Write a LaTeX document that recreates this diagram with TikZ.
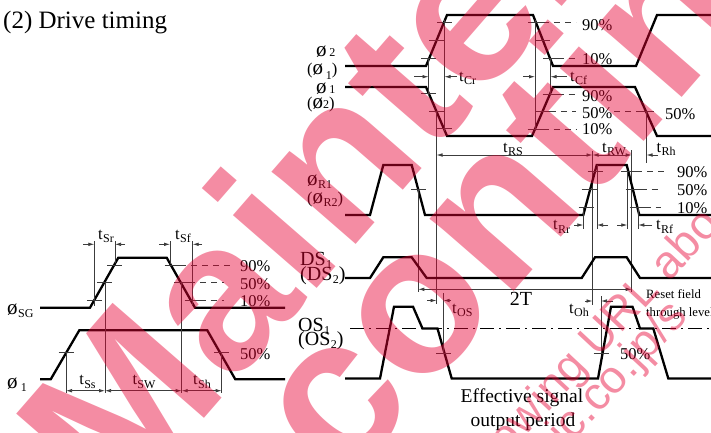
\documentclass[tikz,border=0pt]{standalone}
\usepackage{fontspec}
\setmainfont{Liberation Serif}
\newfontfamily\wmfont{Liberation Sans}
\usetikzlibrary{arrows.meta}
\definecolor{wmpink}{RGB}{230,0,50}
\definecolor{gl}{RGB}{60,60,60}
\newcommand\sbs[1]{\kern0.4pt\raisebox{-3.5pt}{\fontsize{12}{12}\selectfont #1}}
\newcommand\ph{{\fontsize{21}{21}\selectfont ø}}
\newcommand\mytick[2]{\draw[thinl] (#1,#2) +(-7.5,0) -- +(7.5,0);}
\begin{document}
\begin{tikzpicture}[x=1pt,y=-1pt,
  wave/.style={line width=2.3pt},
  thinl/.style={line width=0.75pt, draw=gl},
  dsh/.style={line width=0.75pt, draw=gl, dash pattern=on 6pt off 5pt},
  dashdot/.style={line width=0.75pt, draw=black, dash pattern=on 14pt off 5pt on 2pt off 5pt},
  dimb/.style={line width=0.75pt, draw=gl, {Latex[length=6pt,width=3.6pt]}-{Latex[length=6pt,width=3.6pt]}},
  ar/.style={line width=0.75pt, draw=gl, -{Latex[length=6pt,width=3.6pt]}},
  lb/.style={font=\fontsize{16.5}{18}\selectfont, inner sep=0pt},
  big/.style={font=\fontsize{20}{22}\selectfont, inner sep=0pt},
  sml/.style={font=\fontsize{12.7}{14}\selectfont, inner sep=0pt},
  wm/.style={font=\wmfont\bfseries\fontsize{210}{210}\selectfont, text=wmpink, text opacity=0.45, inner sep=0pt},
  wms/.style={font=\wmfont\fontsize{46}{46}\selectfont, text=wmpink, text opacity=0.45, inner sep=0pt}]
\useasboundingbox (0,0) rectangle (711,432);

% title
\node[anchor=base west, inner sep=0pt, font=\fontsize{25}{28}\selectfont] (title) at (3,28) {(2) Drive timing};

% ---------------- upper right: phi1 / phi2 ----------------
\node[lb, anchor=base west] (lp2) at (316,56) {\ph\,{\fontsize{12}{12}\selectfont 2}};
\node[lb, anchor=base west] (lp2b) at (307,74) {(\ph\,\raisebox{-5pt}{\fontsize{12}{12}\selectfont 1})};
\node[lb, anchor=base west] (lp1) at (316,93) {\ph\,{\fontsize{12}{12}\selectfont 1}};
\node[lb, anchor=base west] (lp1b) at (307,108.5) {(\ph{\fontsize{12}{12}\selectfont 2})};

\draw[wave] (345,66) -- (426,66) -- (447,15) -- (533,15) -- (553,66) -- (636,66) -- (657,15) -- (712,15);
\draw[wave] (345,87) -- (426,87) -- (447,136) -- (532,136) -- (553,87) -- (635,87) -- (657,136) -- (712,136);

\mytick{444.5}{22.7}\mytick{436.5}{40.5}\mytick{428.5}{58.3}
\mytick{535.5}{22.7}\mytick{542.5}{40.5}\mytick{550.5}{58.3}
\mytick{428.5}{93.3}\mytick{436.5}{111.7}\mytick{444}{128.7}
\mytick{550}{94.3}\mytick{542.5}{111.7}\mytick{535}{129}
\mytick{646.5}{111.7}

\draw[dsh] (543,22.7) -- (576,22.7);
\draw[dsh] (558,58.3) -- (576,58.3);
\draw[dsh] (557.5,94.3) -- (576,94.3);
\draw[dsh] (550,111.7) -- (576,111.7);
\draw[dsh] (614,111.7) -- (639,111.7);
\draw[dsh] (542.5,129) -- (576,129);

\node[lb, anchor=base west] (p90a) at (582,30.5) {90\%};
\node[lb, anchor=base west] (p10a) at (582,64) {10\%};
\node[lb, anchor=base west] (p90b) at (582,101.7) {90\%};
\node[lb, anchor=base west] (p50b) at (582,118.7) {50\%};
\node[lb, anchor=base west] (p10b) at (582,134.7) {10\%};
\node[lb, anchor=base west] (p50c) at (665,119.5) {50\%};

\draw[thinl] (428.5,58.3) -- (428.5,95);
\draw[thinl] (444.5,20) -- (444.5,131);
\draw[thinl] (535,20) -- (535,131);
\draw[thinl] (550.5,58.3) -- (550.5,95);
\draw[thinl] (436.5,111.7) -- (436.5,304);
\draw[thinl] (646.5,111.7) -- (646.5,163);

\draw[ar] (414,76.7) -- (428.5,76.7);
\draw[ar] (457,76.7) -- (444.5,76.7);
\draw[ar] (523,76.7) -- (535,76.7);
\draw[ar] (567,76.7) -- (550.5,76.7);
\node[lb, anchor=base west] (tcr) at (459,81) {t\sbs{Cr}};
\node[lb, anchor=base west] (tcf) at (570,81) {t\sbs{Cf}};

% tRS tRW tRh
\draw[dimb] (436.5,155) -- (592.5,155);
\draw[dimb] (592.5,155) -- (631.7,155);
\draw[ar] (658,155) -- (646.5,155);
\node[lb, anchor=base] (trs) at (513,152) {t\sbs{RS}};
\node[lb, anchor=base] (trw) at (614,152) {t\sbs{RW}};
\node[lb, anchor=base] (trh) at (666,152) {t\sbs{Rh}};
\draw[thinl] (592.5,151) -- (592.5,305);
\draw[thinl] (631.7,150) -- (631.7,292);

% ---------------- phi R ----------------
\node[lb, anchor=base west] (lr1) at (307,185) {\ph\sbs{R1}};
\node[lb, anchor=base west] (lr2) at (307,203) {(\ph\sbs{R2})};
\draw[wave] (345,215) -- (370,215) -- (383.3,165) -- (411.7,165) -- (425,215) -- (583.3,215) -- (596.7,165) -- (626.7,165) -- (639.3,215) -- (712,215);
\mytick{418.3}{189.3}
\mytick{595}{171.7}\mytick{589}{189.3}\mytick{586}{207.3}
\mytick{628}{171.7}\mytick{633}{189.3}\mytick{637}{207.3}
\draw[dsh] (636,171.7) -- (667,171.7);
\draw[dsh] (640.5,189.3) -- (661,189.3);
\draw[dsh] (644.5,207.3) -- (661,207.3);
\node[lb, anchor=base west] (r90) at (677,177) {90\%};
\node[lb, anchor=base west] (r50) at (677,195) {50\%};
\node[lb, anchor=base west] (r10) at (677,213) {10\%};
\draw[thinl] (418.3,189.3) -- (418.3,292);
\draw[thinl] (583.3,207.3) -- (583.3,229);
\draw[thinl] (597,165) -- (597,229);
\draw[thinl] (627.3,171.7) -- (627.3,229);
\draw[thinl] (638.3,207.3) -- (638.3,229);
\draw[ar] (574,225) -- (583.3,225);
\draw[ar] (608,225) -- (597,225);
\draw[ar] (617,225) -- (627.3,225);
\draw[ar] (652,225) -- (638.3,225);
\node[lb, anchor=base west] (trr) at (553,229.5) {t\sbs{Rr}};
\node[lb, anchor=base west] (trf) at (656,229.5) {t\sbs{Rf}};

% ---------------- DS ----------------
\node[big, anchor=base west] (ds1) at (300,265) {DS\sbs{1}};
\node[big, anchor=base west] (ds2) at (300,280) {(DS\sbs{2})};
\draw[wave] (345,278) -- (370,278) -- (383.3,257.3) -- (411.7,257.3) -- (426.7,278) -- (581.7,278) -- (595,257.3) -- (626.7,257.3) -- (640,278) -- (712,278);
\draw[dimb] (418.3,289.3) -- (631.7,289.3);
\node[big, anchor=base] (twoT) at (521,305.5) {2T};
\node[sml, anchor=base west] (rf1) at (646,298.3) {Reset field};
\node[sml, anchor=base west] (rf2) at (646,316) {through level};

% ---------------- OS ----------------
\node[big, anchor=base west] (os1) at (298,331) {OS\sbs{1}};
\node[big, anchor=base west] (os2) at (298,345) {(OS\sbs{2})};
\draw[dashdot] (350,328.5) -- (711,328.5);
\draw[wave] (345,378.5) -- (380,378.5) -- (394,306.7) -- (413,306.7) -- (422.5,328.5) -- (437.5,328.5) -- (451.7,378.5) -- (598,378.5) -- (611,306.7) -- (632.5,306.7) -- (640,328.5) -- (653.3,328.5) -- (668.3,378.5) -- (712,378.5);
\mytick{443.5}{353}\mytick{601}{353}
\draw[thinl] (443.5,293) -- (443.5,353);
\draw[thinl] (601,296) -- (601,353);
\draw[ar] (427,300.5) -- (436.5,300.5);
\draw[ar] (451,300.5) -- (443.5,300.5);
\draw[ar] (585,301) -- (592.5,301);
\draw[ar] (613,301) -- (601,301);
\node[lb, anchor=base west] (tos) at (452,313) {t\sbs{OS}};
\node[lb, anchor=base west] (toh) at (569,313) {t\sbs{Oh}};
\node[lb, anchor=base west] (os50) at (620,359) {50\%};
\node[font=\fontsize{19.5}{21}\selectfont, inner sep=0pt, anchor=base] (eff1) at (522,402.7) {Effective signal};
\node[font=\fontsize{19.5}{21}\selectfont, inner sep=0pt, anchor=base] (eff2) at (523,426) {output period};

% ---------------- lower left: SG ----------------
\node[lb, anchor=base west] (lsg) at (7,314) {\ph\sbs{SG}};
\node[lb, anchor=base west] (lph1) at (7,388) {\ph\,\sbs{1}};
\draw[wave] (40,307.7) -- (90,307.7) -- (118.3,257.7) -- (166.7,257.7) -- (195,307.7) -- (285,307.7);
\draw[wave] (40,379.3) -- (50.7,379.3) -- (79.3,330.3) -- (207.3,330.3) -- (235.3,379.3) -- (285,379.3);
\mytick{114.5}{265.3}\mytick{104.5}{282.7}\mytick{94.3}{300}
\mytick{172}{265.3}\mytick{181.5}{282.7}\mytick{192}{300}
\mytick{66}{352.7}\mytick{221.7}{352.7}
\draw[dsh] (180,265.3) -- (232,265.3);
\draw[dsh] (189,282.7) -- (224,282.7);
\draw[dsh] (199.5,300) -- (224,300);
\node[lb, anchor=base west] (s90) at (240,271.5) {90\%};
\node[lb, anchor=base west] (s50) at (240,289) {50\%};
\node[lb, anchor=base west] (s10) at (240,306) {10\%};
\node[lb, anchor=base west] (s50b) at (240,359.5) {50\%};
\draw[thinl] (94.3,241) -- (94.3,306);
\draw[thinl] (115,241) -- (115,263);
\draw[thinl] (170,241) -- (170,264);
\draw[thinl] (192.7,241) -- (192.7,306);
\draw[thinl] (105,282.7) -- (105,393);
\draw[thinl] (181.7,282.7) -- (181.7,393);
\draw[thinl] (66,352.7) -- (66,393);
\draw[thinl] (221.7,352.7) -- (221.7,393);
\draw[ar] (83,244.3) -- (94.3,244.3);
\draw[ar] (125,244.3) -- (115,244.3);
\draw[ar] (159,244.3) -- (170,244.3);
\draw[ar] (202,244.3) -- (192.7,244.3);
\draw[dimb] (66,390.7) -- (105,390.7);
\draw[dimb] (105,390.7) -- (181.7,390.7);
\draw[dimb] (181.7,390.7) -- (221.7,390.7);
\node[lb, anchor=base] (tsr) at (106,239) {t\sbs{Sr}};
\node[lb, anchor=base] (tsf) at (183,239) {t\sbs{Sf}};
\node[lb, anchor=base] (tss) at (87.5,384.5) {t\sbs{Ss}};
\node[lb, anchor=base] (tsw) at (144,384.5) {t\sbs{SW}};
\node[lb, anchor=base] (tsh) at (202,384.5) {t\sbs{Sh}};

% ---------------- watermark ----------------
\begin{scope}
\clip (0,0) rectangle (711,432);
\node[wm, rotate=49] (wm1) at (477,-10) {Maintenance};
\node[wm, rotate=49] (wm2) at (509,183) {Discontinued};
\node[wms, rotate=47] (wm3) at (606,333) {owing URL abo};
\node[wms, rotate=47] (wm4) at (619,375) {ic.co.jp/s};
\end{scope}
\end{tikzpicture}
\end{document}
